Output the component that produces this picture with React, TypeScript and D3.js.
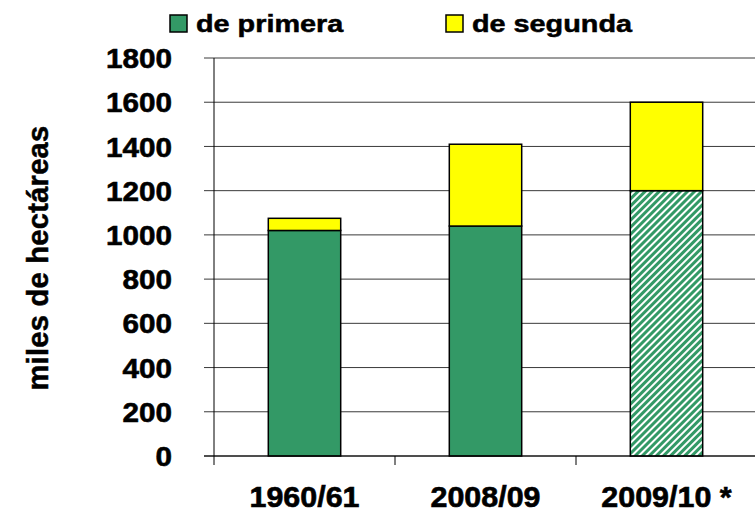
import React from "react";
import * as d3 from "d3";

const categories = ["1960/61", "2008/09", "2009/10 *"];
const primera = [1020, 1040, 1200];
const segunda = [55, 370, 400];
const yTicks = [0, 200, 400, 600, 800, 1000, 1200, 1400, 1600, 1800];
const seriesNames = ["de primera", "de segunda"];

const W = 755;
const H = 512;
const GREEN = "#339966";
const YELLOW = "#FFFF00";
const FONT = "'Liberation Sans', Arial, sans-serif";

export default function App() {
  const x = d3
    .scaleBand<string>()
    .domain(categories)
    .range([214, 757])
    .paddingInner(0.6)
    .paddingOuter(0.3);
  const y = d3.scaleLinear().domain([0, 1800]).range([456, 58]);
  const step = x.step();

  return (
    <svg
      width={W}
      height={H}
      style={{ position: "absolute", left: 0, top: 0, background: "#fff" }}
      fontFamily={FONT}
    >
      <defs>
        <pattern
          id="hatch"
          patternUnits="userSpaceOnUse"
          width={5}
          height={5}
          patternTransform="rotate(45)"
        >
          <rect x={0} y={0} width={5} height={5} fill="#fff" />
          <rect x={0} y={0} width={3} height={5} fill={GREEN} />
        </pattern>
      </defs>
      <rect x={0} y={0} width={W} height={H} fill="#fff" />

      {/* gridlines */}
      {yTicks.map((t) => (
        <line
          key={"g" + t}
          x1={204}
          x2={W}
          y1={y(t)}
          y2={y(t)}
          stroke="#3a3a3a"
          strokeWidth={1}
        />
      ))}

      {/* bars */}
      {categories.map((c, i) => {
        const x0 = x(c) as number;
        const bw = x.bandwidth();
        const y1 = y(primera[i]);
        const y2 = y(primera[i] + segunda[i]);
        return (
          <g key={c}>
            <rect
              x={x0}
              y={y1}
              width={bw}
              height={y(0) - y1}
              fill={i === 2 ? "url(#hatch)" : GREEN}
              stroke="#000"
              strokeWidth={1.5}
            />
            <rect
              x={x0}
              y={y2}
              width={bw}
              height={y1 - y2}
              fill={YELLOW}
              stroke="#000"
              strokeWidth={1.5}
            />
          </g>
        );
      })}

      {/* axes */}
      <line x1={214} x2={214} y1={y(1800)} y2={465} stroke="#000" strokeWidth={1} />
      <line x1={204} x2={W} y1={y(0)} y2={y(0)} stroke="#000" strokeWidth={1} />
      {categories.slice(1).map((c) => {
        const xx = (x(c) as number) - step * 0.3;
        return (
          <line key={"t" + c} x1={xx} x2={xx} y1={y(0)} y2={465} stroke="#000" strokeWidth={1} />
        );
      })}

      {/* y tick labels */}
      {yTicks.map((t) => (
        <text
          key={"l" + t}
          transform={`translate(172, ${y(t)}) scale(1.06, 1)`}
          dy="0.36em"
          textAnchor="end"
          fontSize={28}
          fontWeight="bold"
          stroke="#000"
          strokeWidth={0.6}
        >
          {t}
        </text>
      ))}

      {/* x labels */}
      {categories.map((c) => (
        <text
          key={"x" + c}
          transform={`translate(${(x(c) as number) + x.bandwidth() / 2}, 507) scale(1.05, 1)`}
          textAnchor="middle"
          fontSize={29}
          fontWeight="bold"
          stroke="#000"
          strokeWidth={0.6}
        >
          {c}
        </text>
      ))}

      {/* y title */}
      <text
        transform={`translate(48, ${258}) rotate(-90)`}
        textAnchor="middle"
        fontSize={29}
        fontWeight="bold"
        letterSpacing={0.3}
        stroke="#000"
        strokeWidth={0.5}
      >
        miles de hectáreas
      </text>

      {/* legend */}
      {seriesNames.map((s, i) => {
        const lx = i === 0 ? 170 : 446;
        return (
          <g key={s}>
            <rect
              x={lx}
              y={15}
              width={17}
              height={17}
              fill={i === 0 ? GREEN : YELLOW}
              stroke="#000"
              strokeWidth={1.5}
            />
            <text
              transform={`translate(${lx + 26}, 32) scale(1.2, 1)`}
              fontSize={24}
              fontWeight="bold"
              stroke="#000"
              strokeWidth={0.5}
            >
              {s}
            </text>
          </g>
        );
      })}
    </svg>
  );
}
